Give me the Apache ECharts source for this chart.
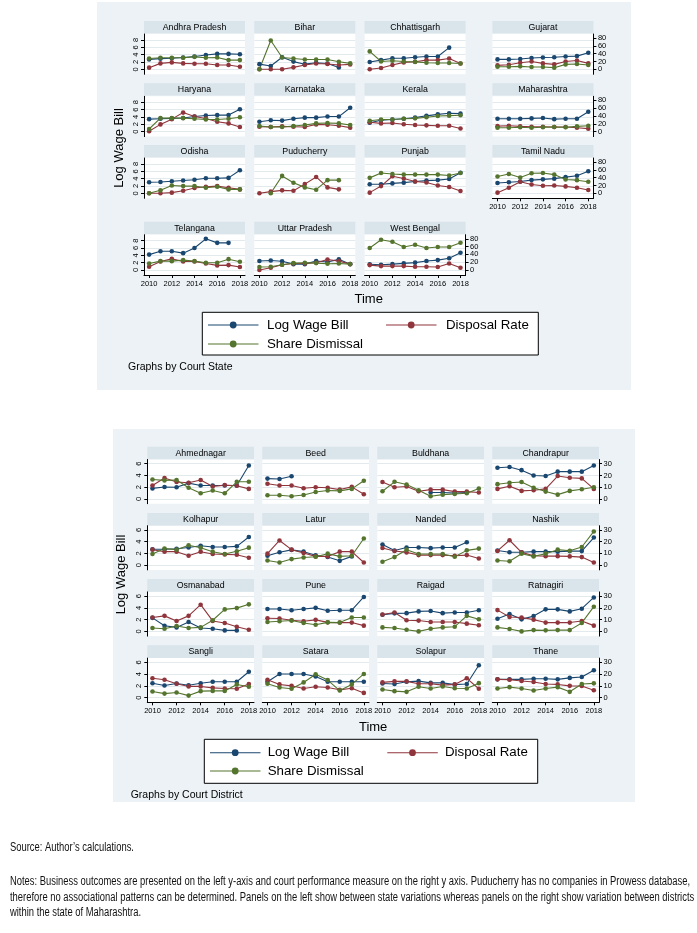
<!DOCTYPE html>
<html><head><meta charset="utf-8">
<script src="https://cdn.jsdelivr.net/npm/echarts@6/dist/echarts.min.js"></script>
<style>html,body{margin:0;padding:0;background:#fff}#c{width:697px;height:933px}</style>
</head><body><div id="c"></div>
<script>
// ---------- DATA ----------
const years = [2010, 2011, 2012, 2013, 2014, 2015, 2016, 2017, 2018];
const yearTicks = [2010, 2012, 2014, 2016, 2018];

const stateNames = ["Andhra Pradesh","Bihar","Chhattisgarh","Gujarat","Haryana","Karnataka","Kerala","Maharashtra","Odisha","Puducherry","Punjab","Tamil Nadu","Telangana","Uttar Pradesh","West Bengal"];
const stateLogWageBill = [
  [2.7,2.9,3.0,3.2,3.5,3.9,4.2,4.2,4.1],
  [1.4,0.9,3.3,2.1,1.4,1.8,1.6,0.5,null],
  [2.0,2.5,3.0,3.0,3.3,3.5,3.5,5.9,null],
  [2.7,2.7,2.8,3.1,3.2,3.3,3.5,3.6,4.5],
  [3.4,3.5,3.6,3.7,4.1,4.4,4.5,4.5,6.1],
  [2.7,3.1,3.0,3.5,3.8,3.8,4.1,4.1,6.5],
  [2.4,3.1,3.3,3.5,3.8,4.3,4.7,5.0,4.9],
  [3.5,3.5,3.5,3.6,3.7,3.4,3.5,3.5,5.4],
  [3.0,3.1,3.3,3.5,3.7,4.1,4.1,4.2,6.3],
  [null,null,null,null,null,null,null,null,null],
  [2.45,2.45,2.7,2.9,3.2,3.45,3.6,3.9,5.6],
  [2.8,3.0,3.2,3.6,3.8,4.0,4.4,4.8,6.0],
  [4.2,5.1,5.1,4.6,6.0,8.5,7.4,7.4,null],
  [2.45,2.6,2.4,1.6,1.6,2.45,2.2,2.9,1.6],
  [1.55,1.45,1.6,1.8,2.0,2.45,2.7,3.2,4.7]
];
const stateDisposalRate = [
  [4.2,15.2,17.7,15.2,14.3,14.3,10.9,10.9,6.7],
  [0,0,0,5,11,15,13.5,11,12.6],
  [0,3.4,11,17.7,19.4,23.6,23.6,27.8,15],
  [10,11.8,16.8,20.2,15.2,12.6,20.2,22.7,15.2],
  [0.8,18.5,32,48.8,38.7,33.7,25.3,21,11.8],
  [12.6,11.8,13.5,12.6,11.8,18.5,17.7,15.2,10.1],
  [24,21,22,19,17,16,15,15,8],
  [14,15,13.5,12.6,12.6,11.8,11.8,10,7.6],
  [0,0,1.7,6.7,13.5,16.8,18.5,14.3,10],
  [0,4.2,7.6,6.7,23.6,42,15.2,10.1,null],
  [1.7,18.5,43.8,37.9,30.3,27.8,20.2,16,5.9],
  [1.7,14.3,29.5,22.7,19.4,20.2,17.7,14.3,8.4],
  [8.4,21.9,28.6,21.9,21.9,16.8,11.8,12.6,7.6],
  [0,5.9,13.5,16.8,16.8,18.5,27,22.7,15.2],
  [12.6,10,10,10,8.4,8.4,7.6,16.8,5.9]
];
const stateShareDismissal = [
  [27.8,29.5,29.5,29.5,32,29.5,30.3,23.6,23.6],
  [0,74,30.3,27.8,25.3,25.3,25.3,19.4,15.2],
  [46,20,22,20,19,17,16,16,15],
  [6.7,6.7,7.6,5.9,5.9,4.2,12.6,13.5,11],
  [6.7,34.5,34.5,34.5,32.8,31.2,31.2,32.8,37],
  [14.3,11.8,11.8,14.3,16.8,21,21.9,21,16.8],
  [28,31,31,33,34,37,40,41,42],
  [10,10,11,10,11,11.8,11,13.5,15],
  [0,7.6,20.2,18.5,18.5,14.3,16.8,10,10],
  [null,0,44.6,27,15.2,9.3,33.7,33.7,null],
  [39.6,52,49.7,48,48,48,48,45.5,52],
  [43,49.7,40.4,51.4,52.2,48,35.4,33.7,29.5],
  [16.8,22.7,22.7,25.3,22.7,18.5,18.5,27.8,21],
  [7.6,8.4,13.5,17.7,18.5,17.7,16,16.8,15.2],
  [56.4,77.5,72.4,59,64.8,56.4,59,59,70]
];
const stateLeftTicks = [0, 2, 4, 6, 8];
const stateRightTicks = [0, 20, 40, 60, 80];

const districtNames = ["Ahmednagar","Beed","Buldhana","Chandrapur","Kolhapur","Latur","Nanded","Nashik","Osmanabad","Pune","Raigad","Ratnagiri","Sangli","Satara","Solapur","Thane"];
const districtLogWageBill = [
  [1.8,2.05,2.0,2.7,2.3,2.3,2.3,2.3,5.7],
  [3.47,3.4,3.86,null,null,null,null,null,null],
  [null,null,null,null,1.1,1.1,1.0,1.1,null],
  [5.3,5.45,4.9,4.0,3.9,4.65,4.65,4.65,5.7],
  [2.7,2.7,2.8,3.0,3.3,3.1,3.1,3.2,4.8],
  [1.6,2.2,2.6,2.3,1.7,1.4,0.74,1.5,null],
  [3.5,2.5,3.0,3.0,2.9,3.0,3.0,3.9,null],
  [2.5,2.2,2.2,2.3,2.3,2.3,2.4,2.4,4.7],
  [2.3,0.97,0.68,1.6,0.57,0.45,0.17,0.17,null],
  [3.8,3.8,3.6,3.8,4.0,3.5,3.6,3.6,5.85],
  [2.84,3.07,3.1,3.4,3.47,3.1,3.2,3.2,3.6],
  [2.16,2.95,2.05,2.6,3.75,3.75,3.4,3.86,5.77],
  [2.45,2.05,2.4,2.1,2.45,2.7,2.7,2.7,4.4],
  [2.7,4.0,4.0,4.0,3.6,2.7,2.7,2.7,2.7],
  [2.4,2.3,2.7,2.8,2.5,2.5,2.2,2.3,5.5],
  [3.1,3.1,3.1,3.2,3.2,3.1,3.35,3.5,4.65]
];
const districtDisposalRate = [
  [11.5,17.8,14.4,13.8,16.1,10.6,11.8,11.2,8.6],
  [12.9,11.5,11.5,9.2,10,9.5,8.0,10.3,4.0],
  [14.4,10,10.6,6.6,8.0,8.0,6.3,6.3,5.5],
  [8.6,10.9,6.9,7.5,8.6,19.5,18.1,17.5,8.6],
  [13.2,11.5,11.5,8.0,11.5,9.5,9.2,8.9,6.3],
  [9.8,21,13.2,10.3,7.5,7.5,11.5,11.5,2.3],
  [14.6,12.1,10.9,8.6,8.6,8.6,8.0,8.6,5.7],
  [12.1,21.2,10.9,8.0,7.7,7.7,7.5,6.9,2.3],
  [11.8,13.2,8.9,13.2,22.7,8.9,7.2,4.0,1.4],
  [11.2,10.9,9.5,8.6,9.8,7.7,7.5,7.5,4.9],
  [14.4,16.1,9.5,9.2,8.0,8.0,8.0,6.6,5.2],
  [18.1,12.3,11.8,10.0,7.5,7.5,7.5,8.9,4.9],
  [16.4,15.2,11.8,9.5,9.5,8.3,7.7,7.5,11.5],
  [15.2,11.2,10.0,7.7,9.2,8.6,6.6,8.0,4.0],
  [12.9,13.8,13.8,11.8,11.8,10.6,11.2,16.4,7.5],
  [15.5,15.2,14.1,13.2,11.5,11.2,10.0,9.8,6.3]
];
const districtShareDismissal = [
  [16.6,15.8,16.1,9.5,4.9,7.2,4.9,14.6,14.6],
  [3.2,3.2,2.3,3.4,6.0,7.2,6.9,8.6,15.5],
  [6.6,14.6,12.3,7.5,2.3,3.7,4.3,4.9,8.9],
  [12.6,13.8,14.4,9.5,6.3,3.7,6.9,8.3,10],
  [9.5,14.1,13.2,16.9,14.9,11.5,9.5,11.8,14.9],
  [4.0,2.3,5.2,6.6,7.2,9.8,7.5,8.0,22.7],
  [2.9,6.9,13.2,9.5,9.5,9.5,7.2,12.6,14.1],
  [4.0,3.4,9.8,7.5,9.8,13.2,12.3,15.5,28.7],
  [2.9,2.3,4.6,2.9,3.4,9.5,18.7,19.8,23.0],
  [8.0,8.6,9.2,7.2,5.7,7.7,7.5,11.8,11.8],
  [3.4,2.9,1.4,0,2.3,3.4,4.0,13.2,10.3],
  [3.4,2.0,0,1.1,0.9,1.1,1.1,7.2,21.0],
  [5.2,3.4,4.3,1.7,5.5,5.7,5.7,11.2,9.2],
  [11.8,8.6,7.5,12.9,19.8,14.9,6.0,11.2,20.1],
  [6.9,5.5,4.9,9.2,7.7,9.5,8.0,7.7,12.3],
  [7.7,8.9,7.7,6.0,7.7,8.9,4.9,11.5,12.1]
];
const districtLeftTicks = [0, 2, 4, 6];
const districtRightTicks = [0, 10, 20, 30];

const seriesNames = ["Log Wage Bill", "Disposal Rate", "Share Dismissal"];

// ---------- STYLE / LAYOUT ----------
const C_LWB = '#1a476f', C_DISP = '#90353b', C_SHARE = '#55752f';
const colors = [C_LWB, C_DISP, C_SHARE];
const FONT = '"Liberation Sans", Arial, Helvetica, sans-serif';
const NOTEFONT = '"Liberation Sans", Arial, sans-serif';
const BG = '#ecf2f5', STRIP = '#d9e4eb', GRIDC = '#e3eaee';

const figures = [
  { names: stateNames, vals: [stateLogWageBill, stateDisposalRate, stateShareDismissal],
    leftTicks: stateLeftTicks, rightTicks: stateRightTicks, rightRatio: 80/8.5,
    box: [97, 2, 631, 390],
    colLefts: [144, 254.3, 364.6, 492.4], colW: 101,
    stripTops: [21, 83.3, 145, 221.7], stripH: 12.3, plotOff: 13, plotBot: 53.3, zeroOff: 48.3, pxPerUnit: 3.667,
    xPad: 0.45, yTitleX: 119, timeY: 299, byText: 'Graphs by Court State', byPos: [128, 367.3],
    legend: { box: [202.3, 312.3, 538.3, 355], row1: 325, row2: 344, c1: 208, c2: 386, tx1: 267, tx2: 446 } },
  { names: districtNames, vals: [districtLogWageBill, districtDisposalRate, districtShareDismissal],
    leftTicks: districtLeftTicks, rightTicks: districtRightTicks, rightRatio: 5,
    box: [113, 429, 635, 802],
    colLefts: [147.3, 262.3, 377.3, 492.3], colW: 106.7,
    stripTops: [446.7, 512.9, 579.1, 645.3], stripH: 12.6, plotOff: 12.8, plotBot: 57, zeroOff: 52.3, pxPerUnit: 5.883,
    xPad: 0.43, yTitleX: 121, timeY: 727.3, byText: 'Graphs by Court District', byPos: [130.7, 795.3],
    legend: { box: [204.3, 739.3, 537.7, 783.3], row1: 752.7, row2: 771, c1: 210, c2: 387.3, tx1: 267.7, tx2: 445 } }
];

const grids = [], xAxes = [], yAxes = [], series = [], graphics = [];
const tickStyle = { color: '#000', width: 1 };
const lbl = { fontSize: 7.5, fontFamily: FONT, color: '#000', margin: 4.5, interval: 0,
  showMinLabel: true, showMaxLabel: true, hideOverlap: false };
const fmt = v => String(Math.round(v));

figures.forEach(f => {
  const n = f.names.length;
  const yMin = -(f.plotBot - f.zeroOff) / f.pxPerUnit;
  const yMax = (f.zeroOff - f.plotOff) / f.pxPerUnit;
  const [bx0, by0, bx1, by1] = f.box;
  graphics.push({ type: 'rect', z: -10, shape: { x: bx0, y: by0, width: bx1 - bx0, height: by1 - by0 }, style: { fill: BG } });
  // right-axis labels split into two sets so closely spaced labels are all kept
  const rightLabelsA = f.rightTicks.filter((v, j) => j % 2 === 0);
  const rightLabelsB = f.rightTicks.filter((v, j) => j % 2 === 1);

  f.names.forEach((name, i) => {
    const row = Math.floor(i / 4), col = i % 4;
    const left = f.colLefts[col], stripTop = f.stripTops[row];
    const gi = grids.length;
    const showLeft = col === 0, showRight = (col === 3 || i === n - 1), showX = (i + 4 >= n);
    grids.push({ left: left, top: stripTop + f.plotOff, width: f.colW, height: f.plotBot - f.plotOff,
      show: true, backgroundColor: '#fff', borderWidth: 0, containLabel: false });
    xAxes.push({ gridIndex: gi, type: 'value', min: years[0] - f.xPad, max: years[years.length - 1] + f.xPad,
      axisLine: { show: showX, onZero: false, lineStyle: tickStyle },
      axisTick: { show: showX, customValues: yearTicks, length: 3, lineStyle: tickStyle },
      axisLabel: Object.assign({}, lbl, { show: showX, customValues: yearTicks, formatter: fmt }),
      splitLine: { show: false } });
    const leftIdx = yAxes.length;
    yAxes.push({ gridIndex: gi, type: 'value', position: 'left', min: yMin, max: yMax,
      axisLine: { show: showLeft, onZero: false, lineStyle: tickStyle },
      axisTick: { show: showLeft, customValues: f.leftTicks, length: 3, lineStyle: tickStyle },
      axisLabel: Object.assign({}, lbl, { show: showLeft, customValues: f.leftTicks, rotate: 90, formatter: fmt }),
      splitLine: { show: true, lineStyle: { color: GRIDC, width: 1 } } });
    const rightIdx = yAxes.length;
    yAxes.push({ gridIndex: gi, type: 'value', position: 'right', min: yMin * f.rightRatio, max: yMax * f.rightRatio,
      axisLine: { show: showRight, onZero: false, lineStyle: tickStyle },
      axisTick: { show: showRight, customValues: f.rightTicks, length: 3, lineStyle: tickStyle },
      axisLabel: Object.assign({}, lbl, { show: showRight, customValues: rightLabelsA, formatter: fmt }),
      splitLine: { show: false } });
    yAxes.push({ gridIndex: gi, type: 'value', position: 'right', offset: 0, min: yMin * f.rightRatio, max: yMax * f.rightRatio,
      axisLine: { show: false }, axisTick: { show: false },
      axisLabel: Object.assign({}, lbl, { show: showRight, customValues: rightLabelsB, formatter: fmt }),
      splitLine: { show: false } });
    f.vals.forEach((arr, k) => {
      series.push({ type: 'line', name: seriesNames[k], xAxisIndex: gi, yAxisIndex: k === 0 ? leftIdx : rightIdx,
        data: years.map((y, j) => [y, arr[i][j]]),
        symbol: 'circle', symbolSize: 4.6, showSymbol: true, connectNulls: false,
        lineStyle: { color: colors[k], width: 1.1 }, itemStyle: { color: colors[k] },
        emphasis: { disabled: true }, animation: false });
    });
    // panel title strip
    graphics.push({ type: 'rect', shape: { x: left, y: stripTop, width: f.colW, height: f.stripH }, style: { fill: STRIP } });
    graphics.push({ type: 'text', x: left + f.colW / 2, y: stripTop + f.stripH / 2 + 0.3,
      style: { text: name, fill: '#000', font: '8.8px ' + FONT, textAlign: 'center', textVerticalAlign: 'middle', align: 'center', verticalAlign: 'middle' } });
  });

  // axis titles
  const plotTop = f.stripTops[0], plotBottom = f.stripTops[3] + f.plotBot;
  graphics.push({ type: 'text', x: f.yTitleX, y: (plotTop + plotBottom) / 2, rotation: Math.PI / 2,
    style: { text: 'Log Wage Bill', fill: '#000', font: '13px ' + FONT, textAlign: 'center', textVerticalAlign: 'middle', align: 'center', verticalAlign: 'middle' } });
  const cx = (f.colLefts[0] + f.colLefts[3] + f.colW) / 2;
  graphics.push({ type: 'text', x: cx, y: f.timeY,
    style: { text: 'Time', fill: '#000', font: '13px ' + FONT, textAlign: 'center', textVerticalAlign: 'middle', align: 'center', verticalAlign: 'middle' } });
  graphics.push({ type: 'text', x: f.byPos[0], y: f.byPos[1],
    style: { text: f.byText, fill: '#000', font: '10.5px ' + FONT, textAlign: 'left', textVerticalAlign: 'middle', align: 'left', verticalAlign: 'middle' } });

  // legend
  const L = f.legend;
  graphics.push({ type: 'rect', shape: { x: L.box[0], y: L.box[1], width: L.box[2] - L.box[0], height: L.box[3] - L.box[1] },
    style: { fill: '#fff', stroke: '#000', lineWidth: 1 } });
  const items = [[0, L.c1, L.tx1, L.row1], [1, L.c2, L.tx2, L.row1], [2, L.c1, L.tx1, L.row2]];
  items.forEach(([k, lx, tx, ly]) => {
    graphics.push({ type: 'line', shape: { x1: lx, y1: ly, x2: lx + 50.5, y2: ly }, style: { stroke: colors[k], lineWidth: 1.1 } });
    graphics.push({ type: 'circle', shape: { cx: lx + 25.2, cy: ly, r: 3.4 }, style: { fill: colors[k] } });
    graphics.push({ type: 'text', x: tx, y: ly,
      style: { text: seriesNames[k], fill: '#000', font: '13.3px ' + FONT, textAlign: 'left', textVerticalAlign: 'middle', align: 'left', verticalAlign: 'middle' } });
  });
});

// notes (condensed face unavailable: squeeze horizontally to the reference's line width)
const noteLines = [
  ['Source: Author\u2019s calculations.', 848],
  ['Notes: Business outcomes are presented on the left y-axis and court performance measure on the right y axis. Puducherry has no companies in Prowess database,', 881.5],
  ['therefore no associational patterns can be determined. Panels on the left show between state variations whereas panels on the right show variation between districts', 897.5],
  ['within the state of Maharashtra.', 913]
];
const NOTE_SIZE = 12;
const mctx = document.createElement('canvas').getContext('2d');
mctx.font = NOTE_SIZE + 'px ' + NOTEFONT;
const noteScale = 680 / mctx.measureText(noteLines[1][0]).width;
noteLines.forEach(([t, y]) => {
  graphics.push({ type: 'text', x: 10, y: y, scaleX: noteScale,
    style: { text: t, fill: '#111', font: NOTE_SIZE + 'px ' + NOTEFONT, textAlign: 'left', textVerticalAlign: 'middle', align: 'left', verticalAlign: 'middle' } });
});

const chart = echarts.init(document.getElementById('c'), null, { renderer: 'canvas' });
chart.setOption({
  backgroundColor: '#fff',
  animation: false,
  grid: grids, xAxis: xAxes, yAxis: yAxes, series: series,
  graphic: { elements: graphics }
});
</script></body></html>
